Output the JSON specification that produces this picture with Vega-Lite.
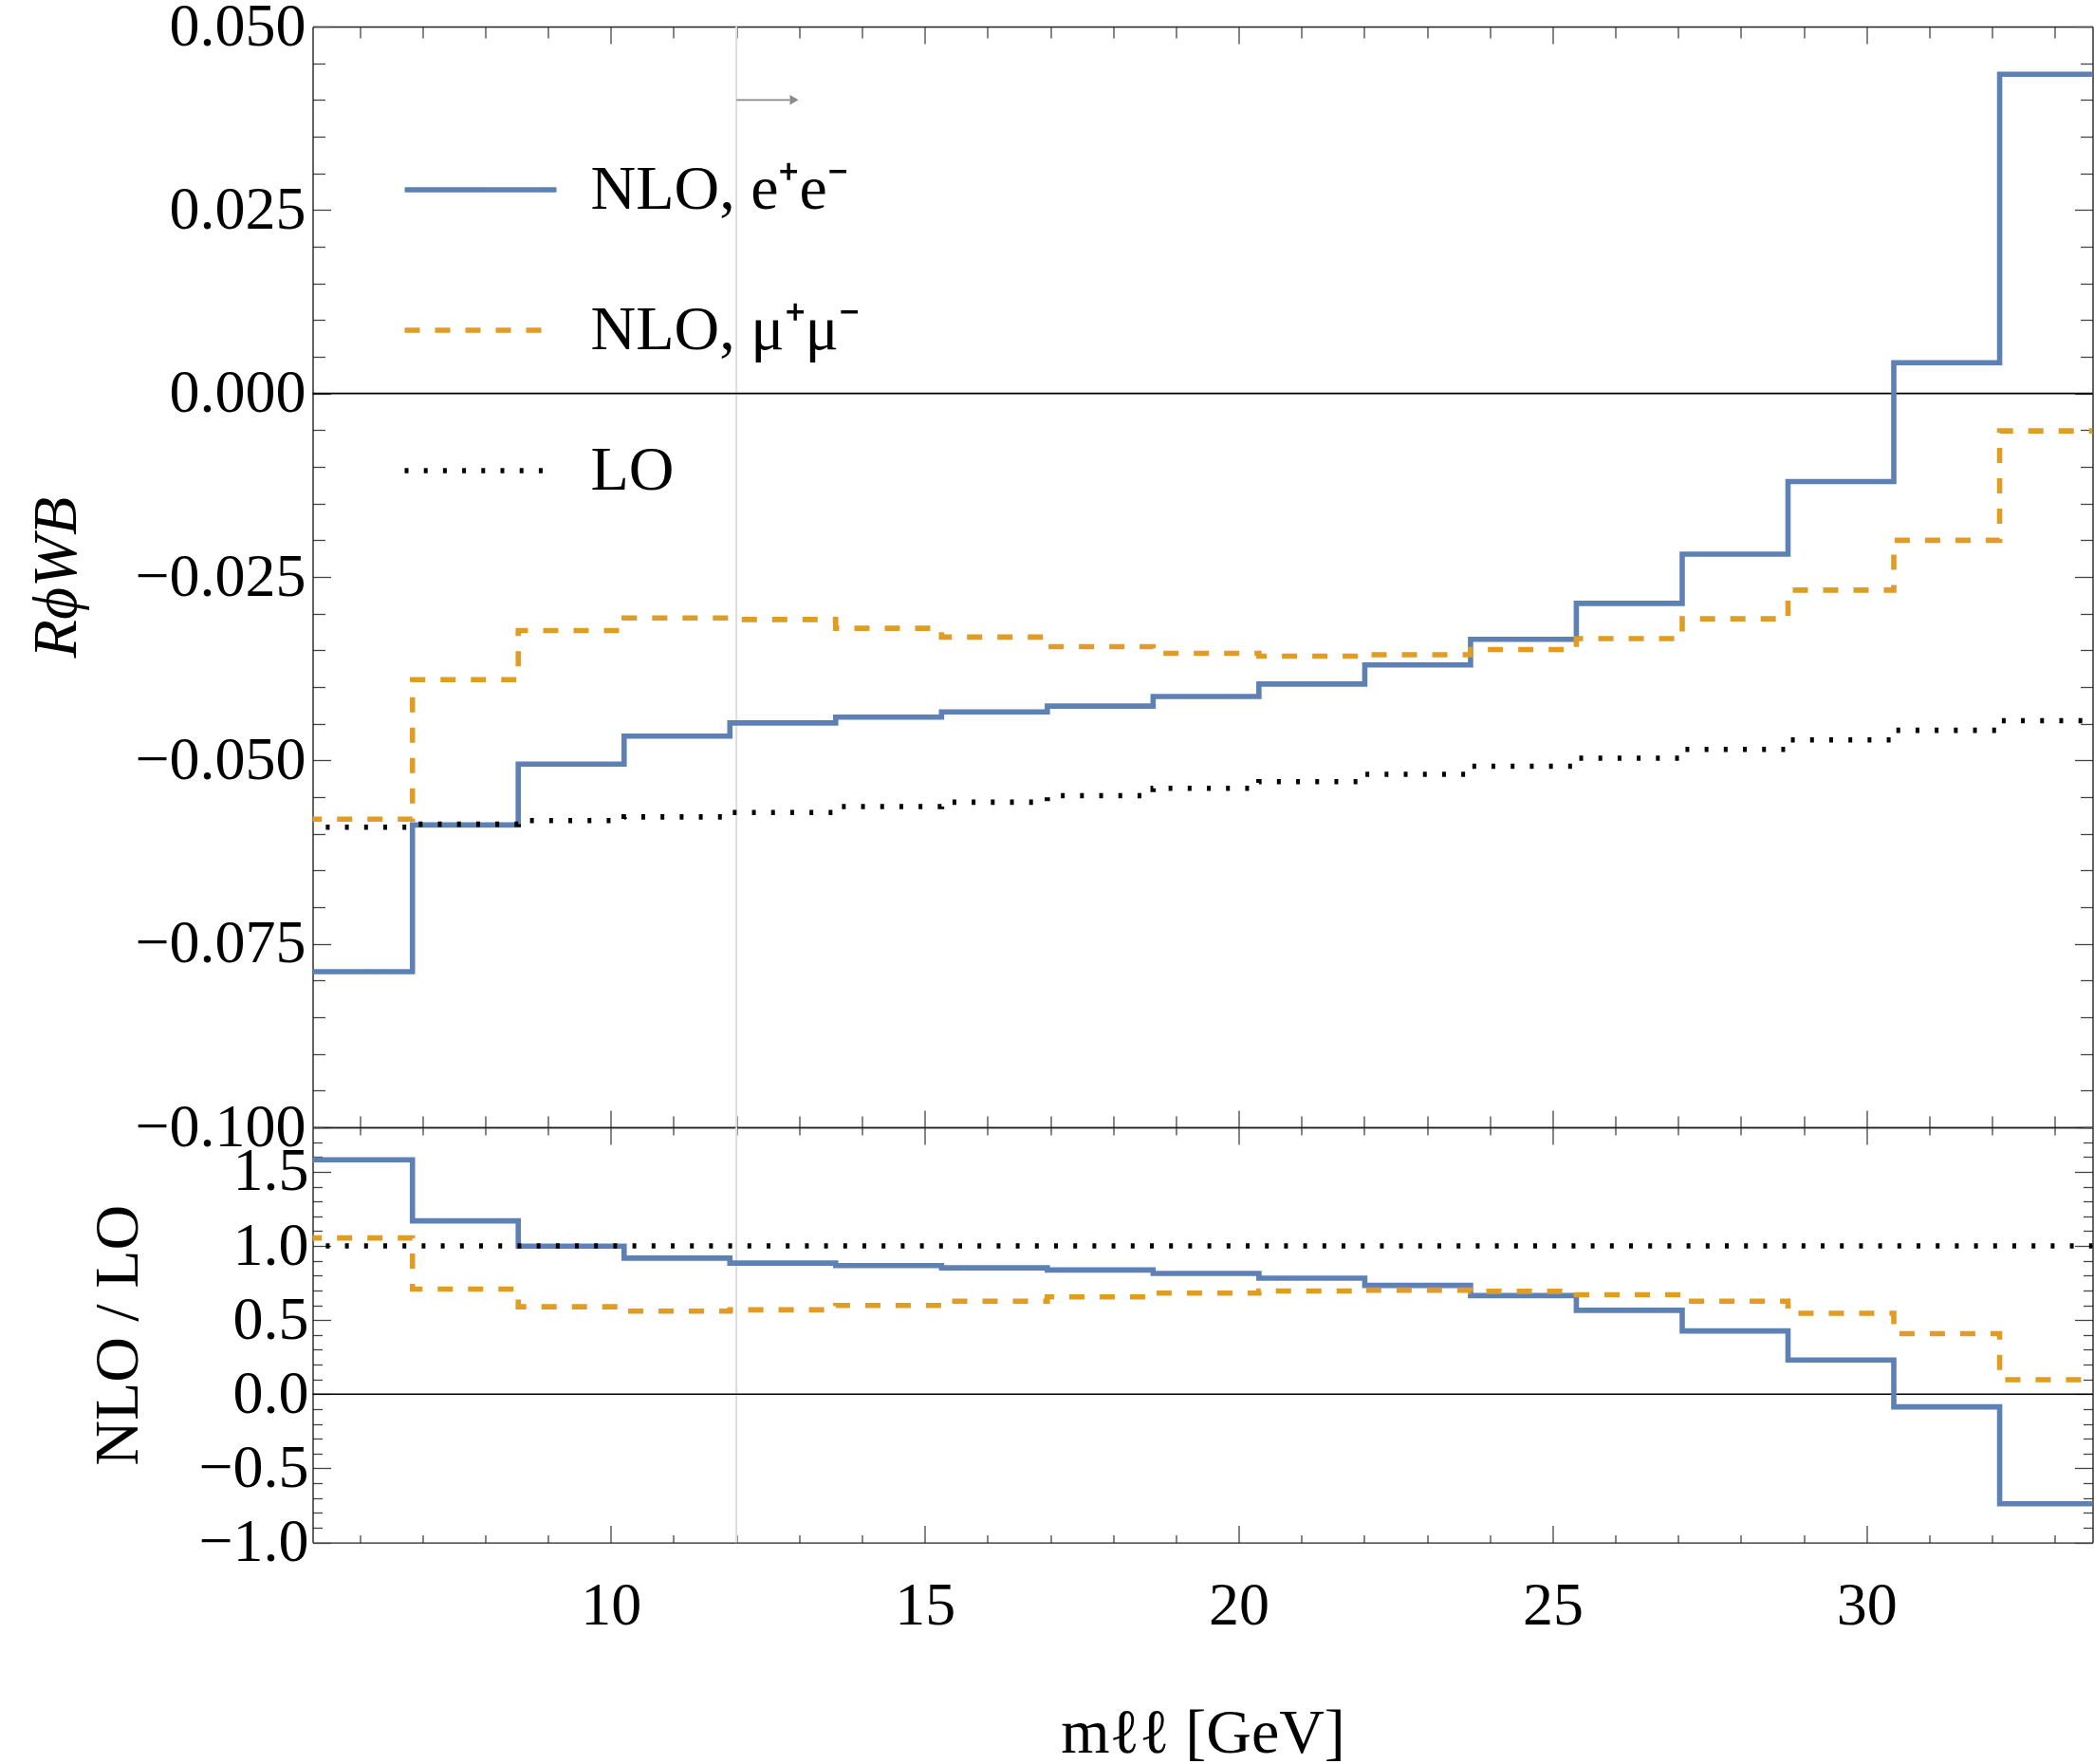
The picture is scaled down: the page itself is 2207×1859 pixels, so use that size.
{
  "$schema": "https://vega.github.io/schema/vega-lite/v6.json",
  "background": "white",
  "padding": {"left": 26.5, "top": -4, "right": 0, "bottom": 0},
  "spacing": 0,
  "bounds": "flush",
  "config": {
    "view": {"stroke": null},
    "font": "Liberation Serif",
    "axis": {
      "grid": false,
      "domainColor": "#222222",
      "domainWidth": 1.4,
      "tickColor": "#444444",
      "tickWidth": 1.3,
      "labelFont": "Liberation Serif",
      "labelFontSize": 64,
      "labelColor": "black",
      "labelLimit": 500,
      "titleFont": "Liberation Serif",
      "titleFontSize": 66,
      "titleColor": "black",
      "titleFontWeight": "normal",
      "titleLimit": 1000,
      "labelOverlap": false,
      "labelFlush": false,
      "labelBound": false
    }
  },
  "resolve": {"scale": {"color": "independent", "strokeDash": "independent", "strokeWidth": "independent"}},
  "datasets": {
    "main": [
      {"m": 5.155, "v": -0.0788, "s": "NLO, e⁺e⁻"},
      {"m": 6.84, "v": -0.0588, "s": "NLO, e⁺e⁻"},
      {"m": 8.525, "v": -0.0505, "s": "NLO, e⁺e⁻"},
      {"m": 10.211, "v": -0.0467, "s": "NLO, e⁺e⁻"},
      {"m": 11.896, "v": -0.0449, "s": "NLO, e⁺e⁻"},
      {"m": 13.581, "v": -0.0441, "s": "NLO, e⁺e⁻"},
      {"m": 15.267, "v": -0.0434, "s": "NLO, e⁺e⁻"},
      {"m": 16.952, "v": -0.0426, "s": "NLO, e⁺e⁻"},
      {"m": 18.637, "v": -0.0413, "s": "NLO, e⁺e⁻"},
      {"m": 20.322, "v": -0.0396, "s": "NLO, e⁺e⁻"},
      {"m": 22.008, "v": -0.0370, "s": "NLO, e⁺e⁻"},
      {"m": 23.693, "v": -0.0335, "s": "NLO, e⁺e⁻"},
      {"m": 25.378, "v": -0.0286, "s": "NLO, e⁺e⁻"},
      {"m": 27.064, "v": -0.0219, "s": "NLO, e⁺e⁻"},
      {"m": 28.749, "v": -0.0120, "s": "NLO, e⁺e⁻"},
      {"m": 30.434, "v": 0.0042, "s": "NLO, e⁺e⁻"},
      {"m": 32.12, "v": 0.0435, "s": "NLO, e⁺e⁻"},
      {"m": 33.805, "v": 0.0435, "s": "NLO, e⁺e⁻"},
      {"m": 5.155, "v": -0.0580, "s": "NLO, μ⁺μ⁻"},
      {"m": 6.84, "v": -0.0390, "s": "NLO, μ⁺μ⁻"},
      {"m": 8.525, "v": -0.0323, "s": "NLO, μ⁺μ⁻"},
      {"m": 10.211, "v": -0.0306, "s": "NLO, μ⁺μ⁻"},
      {"m": 11.896, "v": -0.0308, "s": "NLO, μ⁺μ⁻"},
      {"m": 13.581, "v": -0.0320, "s": "NLO, μ⁺μ⁻"},
      {"m": 15.267, "v": -0.0332, "s": "NLO, μ⁺μ⁻"},
      {"m": 16.952, "v": -0.0345, "s": "NLO, μ⁺μ⁻"},
      {"m": 18.637, "v": -0.0354, "s": "NLO, μ⁺μ⁻"},
      {"m": 20.322, "v": -0.0358, "s": "NLO, μ⁺μ⁻"},
      {"m": 22.008, "v": -0.0356, "s": "NLO, μ⁺μ⁻"},
      {"m": 23.693, "v": -0.0349, "s": "NLO, μ⁺μ⁻"},
      {"m": 25.378, "v": -0.0334, "s": "NLO, μ⁺μ⁻"},
      {"m": 27.064, "v": -0.0307, "s": "NLO, μ⁺μ⁻"},
      {"m": 28.749, "v": -0.0268, "s": "NLO, μ⁺μ⁻"},
      {"m": 30.434, "v": -0.0200, "s": "NLO, μ⁺μ⁻"},
      {"m": 32.12, "v": -0.0051, "s": "NLO, μ⁺μ⁻"},
      {"m": 33.805, "v": -0.0051, "s": "NLO, μ⁺μ⁻"},
      {"m": 5.155, "v": -0.0591, "s": "LO"},
      {"m": 6.84, "v": -0.0587, "s": "LO"},
      {"m": 8.525, "v": -0.0582, "s": "LO"},
      {"m": 10.211, "v": -0.0577, "s": "LO"},
      {"m": 11.896, "v": -0.0571, "s": "LO"},
      {"m": 13.581, "v": -0.0563, "s": "LO"},
      {"m": 15.267, "v": -0.0557, "s": "LO"},
      {"m": 16.952, "v": -0.0548, "s": "LO"},
      {"m": 18.637, "v": -0.0538, "s": "LO"},
      {"m": 20.322, "v": -0.0529, "s": "LO"},
      {"m": 22.008, "v": -0.0519, "s": "LO"},
      {"m": 23.693, "v": -0.0508, "s": "LO"},
      {"m": 25.378, "v": -0.0497, "s": "LO"},
      {"m": 27.064, "v": -0.0485, "s": "LO"},
      {"m": 28.749, "v": -0.0472, "s": "LO"},
      {"m": 30.434, "v": -0.0459, "s": "LO"},
      {"m": 32.12, "v": -0.0446, "s": "LO"},
      {"m": 33.805, "v": -0.0446, "s": "LO"}
    ],
    "ratio": [
      {"m": 5.155, "v": 1.581, "s": "NLO, e⁺e⁻"},
      {"m": 6.84, "v": 1.169, "s": "NLO, e⁺e⁻"},
      {"m": 8.525, "v": 0.999, "s": "NLO, e⁺e⁻"},
      {"m": 10.211, "v": 0.918, "s": "NLO, e⁺e⁻"},
      {"m": 11.896, "v": 0.884, "s": "NLO, e⁺e⁻"},
      {"m": 13.581, "v": 0.867, "s": "NLO, e⁺e⁻"},
      {"m": 15.267, "v": 0.852, "s": "NLO, e⁺e⁻"},
      {"m": 16.952, "v": 0.838, "s": "NLO, e⁺e⁻"},
      {"m": 18.637, "v": 0.815, "s": "NLO, e⁺e⁻"},
      {"m": 20.322, "v": 0.783, "s": "NLO, e⁺e⁻"},
      {"m": 22.008, "v": 0.734, "s": "NLO, e⁺e⁻"},
      {"m": 23.693, "v": 0.665, "s": "NLO, e⁺e⁻"},
      {"m": 25.378, "v": 0.566, "s": "NLO, e⁺e⁻"},
      {"m": 27.064, "v": 0.427, "s": "NLO, e⁺e⁻"},
      {"m": 28.749, "v": 0.231, "s": "NLO, e⁺e⁻"},
      {"m": 30.434, "v": -0.085, "s": "NLO, e⁺e⁻"},
      {"m": 32.12, "v": -0.739, "s": "NLO, e⁺e⁻"},
      {"m": 33.805, "v": -0.739, "s": "NLO, e⁺e⁻"},
      {"m": 5.155, "v": 1.054, "s": "NLO, μ⁺μ⁻"},
      {"m": 6.84, "v": 0.709, "s": "NLO, μ⁺μ⁻"},
      {"m": 8.525, "v": 0.590, "s": "NLO, μ⁺μ⁻"},
      {"m": 10.211, "v": 0.560, "s": "NLO, μ⁺μ⁻"},
      {"m": 11.896, "v": 0.569, "s": "NLO, μ⁺μ⁻"},
      {"m": 13.581, "v": 0.599, "s": "NLO, μ⁺μ⁻"},
      {"m": 15.267, "v": 0.627, "s": "NLO, μ⁺μ⁻"},
      {"m": 16.952, "v": 0.656, "s": "NLO, μ⁺μ⁻"},
      {"m": 18.637, "v": 0.682, "s": "NLO, μ⁺μ⁻"},
      {"m": 20.322, "v": 0.696, "s": "NLO, μ⁺μ⁻"},
      {"m": 22.008, "v": 0.702, "s": "NLO, μ⁺μ⁻"},
      {"m": 23.693, "v": 0.694, "s": "NLO, μ⁺μ⁻"},
      {"m": 25.378, "v": 0.671, "s": "NLO, μ⁺μ⁻"},
      {"m": 27.064, "v": 0.627, "s": "NLO, μ⁺μ⁻"},
      {"m": 28.749, "v": 0.546, "s": "NLO, μ⁺μ⁻"},
      {"m": 30.434, "v": 0.408, "s": "NLO, μ⁺μ⁻"},
      {"m": 32.12, "v": 0.098, "s": "NLO, μ⁺μ⁻"},
      {"m": 33.805, "v": 0.098, "s": "NLO, μ⁺μ⁻"},
      {"m": 5.155, "v": 1.0, "s": "LO"},
      {"m": 6.84, "v": 1.0, "s": "LO"},
      {"m": 8.525, "v": 1.0, "s": "LO"},
      {"m": 10.211, "v": 1.0, "s": "LO"},
      {"m": 11.896, "v": 1.0, "s": "LO"},
      {"m": 13.581, "v": 1.0, "s": "LO"},
      {"m": 15.267, "v": 1.0, "s": "LO"},
      {"m": 16.952, "v": 1.0, "s": "LO"},
      {"m": 18.637, "v": 1.0, "s": "LO"},
      {"m": 20.322, "v": 1.0, "s": "LO"},
      {"m": 22.008, "v": 1.0, "s": "LO"},
      {"m": 23.693, "v": 1.0, "s": "LO"},
      {"m": 25.378, "v": 1.0, "s": "LO"},
      {"m": 27.064, "v": 1.0, "s": "LO"},
      {"m": 28.749, "v": 1.0, "s": "LO"},
      {"m": 30.434, "v": 1.0, "s": "LO"},
      {"m": 32.12, "v": 1.0, "s": "LO"},
      {"m": 33.805, "v": 1.0, "s": "LO"}
    ],
    "vline": [{"m": 12}],
    "zero": [{"v": 0}],
    "arrow": [{"m": 12, "m2": 12.85, "v": 0.04}],
    "arrowhead": [{"m": 12.92, "v": 0.04}]
  },
  "vconcat": [
    {
      "width": 1876,
      "height": 1160,
      "resolve": {"axis": {"x": "independent", "y": "independent"}},
      "layer": [
        {
          "data": {"name": "vline"},
          "mark": {"type": "rule", "color": "#dddddd", "strokeWidth": 2},
          "encoding": {
            "x": {"field": "m", "type": "quantitative", "scale": {"domain": [5.25, 33.6], "nice": false, "zero": false},
              "axis": {"orient": "top", "values": [6,7,8,9,10,11,12,13,14,15,16,17,18,19,20,21,22,23,24,25,26,27,28,29,30,31,32,33], "labels": false, "title": null,
                "tickSize": {"condition": {"test": "datum.value % 5 === 0", "value": -18}, "value": -12}}}
          }
        },
        {
          "data": {"name": "zero"},
          "mark": {"type": "rule", "color": "black", "strokeWidth": 1.6},
          "encoding": {
            "y": {"field": "v", "type": "quantitative", "scale": {"domain": [-0.1, 0.05], "nice": false, "zero": false},
              "axis": {"orient": "right", "values": [-0.1,-0.095,-0.09,-0.085,-0.08,-0.075,-0.07,-0.065,-0.06,-0.055,-0.05,-0.045,-0.04,-0.035,-0.03,-0.025,-0.02,-0.015,-0.01,-0.005,0,0.005,0.01,0.015,0.02,0.025,0.03,0.035,0.04,0.045,0.05], "labels": false, "title": null,
                "tickSize": {"condition": {"test": "abs(datum.value*40 - round(datum.value*40)) < 0.001", "value": -19}, "value": -13}}}
          }
        },
        {
          "data": {"name": "main"},
          "mark": {"type": "line", "interpolate": "step-after", "strokeWidth": 5.6, "clip": true},
          "encoding": {
            "x": {"field": "m", "type": "quantitative", "scale": {"domain": [5.25, 33.6], "nice": false, "zero": false},
              "axis": {"orient": "bottom", "values": [6,7,8,9,10,11,12,13,14,15,16,17,18,19,20,21,22,23,24,25,26,27,28,29,30,31,32,33], "labels": false, "title": null,
                "tickSize": {"condition": {"test": "datum.value % 5 === 0", "value": -18}, "value": -12}}},
            "y": {"field": "v", "type": "quantitative", "scale": {"domain": [-0.1, 0.05], "nice": false, "zero": false},
              "axis": {"orient": "left", "values": [-0.1,-0.095,-0.09,-0.085,-0.08,-0.075,-0.07,-0.065,-0.06,-0.055,-0.05,-0.045,-0.04,-0.035,-0.03,-0.025,-0.02,-0.015,-0.01,-0.005,0,0.005,0.01,0.015,0.02,0.025,0.03,0.035,0.04,0.045,0.05],
                "format": ".3f",
                "labelExpr": "abs(datum.value*40 - round(datum.value*40)) < 0.001 ? datum.label : ''",
                "labelPadding": 26.5,
                "title": "RϕWB", "titleFontStyle": "italic", "titlePadding": 48,
                "tickSize": {"condition": {"test": "abs(datum.value*40 - round(datum.value*40)) < 0.001", "value": -19}, "value": -13}}},
            "color": {"field": "s", "type": "nominal",
              "scale": {"domain": ["NLO, e⁺e⁻", "NLO, μ⁺μ⁻", "LO"], "range": ["#5E81B5", "#E19C24", "#000000"]},
              "legend": {"title": null, "orient": "none", "legendX": 142, "legendY": 137, "padding": 0,
                "symbolType": "M-2.5,0H2.5", "symbolSize": 4096, "symbolStrokeWidth": 5.6, "symbolOffset": 0,
                "labelFont": "Liberation Serif", "labelFontSize": 66, "labelColor": "black", "labelOffset": 81, "rowPadding": 80, "labelLimit": 600}},
            "strokeDash": {"field": "s", "type": "nominal",
              "scale": {"domain": ["NLO, e⁺e⁻", "NLO, μ⁺μ⁻", "LO"], "range": [[1, 0], [16, 16], [4, 16.2]]},
              "legend": {"title": null, "orient": "none", "legendX": 142, "legendY": 137, "padding": 0,
                "symbolType": "M-2.5,0H2.5", "symbolSize": 4096, "symbolStrokeWidth": 5.6, "symbolOffset": 0,
                "labelFont": "Liberation Serif", "labelFontSize": 66, "labelColor": "black", "labelOffset": 81, "rowPadding": 80, "labelLimit": 600}}
          }
        },
        {
          "data": {"name": "arrow"},
          "mark": {"type": "rule", "color": "#8a8a8a", "strokeWidth": 1.6},
          "encoding": {
            "x": {"field": "m", "type": "quantitative", "axis": null},
            "x2": {"field": "m2"},
            "y": {"field": "v", "type": "quantitative", "axis": null}
          }
        },
        {
          "data": {"name": "arrowhead"},
          "mark": {"type": "point", "shape": "triangle-right", "filled": true, "color": "#8a8a8a", "size": 110, "opacity": 1},
          "encoding": {
            "x": {"field": "m", "type": "quantitative", "axis": null},
            "y": {"field": "v", "type": "quantitative", "axis": null}
          }
        }
      ]
    },
    {
      "width": 1876,
      "height": 437.6,
      "resolve": {"axis": {"x": "independent", "y": "independent"}},
      "layer": [
        {
          "data": {"name": "vline"},
          "mark": {"type": "rule", "color": "#dddddd", "strokeWidth": 2},
          "encoding": {
            "x": {"field": "m", "type": "quantitative", "scale": {"domain": [5.25, 33.6], "nice": false, "zero": false},
              "axis": {"orient": "top", "values": [6,7,8,9,10,11,12,13,14,15,16,17,18,19,20,21,22,23,24,25,26,27,28,29,30,31,32,33], "labels": false, "title": null,
                "tickSize": {"condition": {"test": "datum.value % 5 === 0", "value": -18}, "value": -8}}}
          }
        },
        {
          "data": {"name": "zero"},
          "mark": {"type": "rule", "color": "black", "strokeWidth": 1.6},
          "encoding": {
            "y": {"field": "v", "type": "quantitative", "scale": {"domain": [-1, 1.8], "nice": false, "zero": false},
              "axis": {"orient": "right", "values": [-1,-0.9,-0.8,-0.7,-0.6,-0.5,-0.4,-0.3,-0.2,-0.1,0,0.1,0.2,0.3,0.4,0.5,0.6,0.7,0.8,0.9,1,1.1,1.2,1.3,1.4,1.5,1.6,1.7,1.8], "labels": false, "title": null,
                "tickSize": {"condition": {"test": "abs(datum.value*2 - round(datum.value*2)) < 0.001", "value": -19}, "value": -10}}}
          }
        },
        {
          "data": {"name": "ratio"},
          "mark": {"type": "line", "interpolate": "step-after", "strokeWidth": 5.6, "clip": true},
          "encoding": {
            "x": {"field": "m", "type": "quantitative", "scale": {"domain": [5.25, 33.6], "nice": false, "zero": false},
              "axis": {"orient": "bottom", "values": [6,7,8,9,10,11,12,13,14,15,16,17,18,19,20,21,22,23,24,25,26,27,28,29,30,31,32,33],
                "labelExpr": "datum.value % 5 === 0 ? datum.label : ''", "format": "d",
                "labelPadding": 53,
                "title": "mℓℓ [GeV]", "titlePadding": 60,
                "tickSize": {"condition": {"test": "datum.value % 5 === 0", "value": -18}, "value": -8}}},
            "y": {"field": "v", "type": "quantitative", "scale": {"domain": [-1, 1.8], "nice": false, "zero": false},
              "axis": {"orient": "left", "values": [-1,-0.9,-0.8,-0.7,-0.6,-0.5,-0.4,-0.3,-0.2,-0.1,0,0.1,0.2,0.3,0.4,0.5,0.6,0.7,0.8,0.9,1,1.1,1.2,1.3,1.4,1.5,1.6,1.7,1.8],
                "format": ".1f",
                "labelExpr": "abs(datum.value*2 - round(datum.value*2)) < 0.001 ? datum.label : ''",
                "labelPadding": 23.5,
                "title": "NLO / LO", "titlePadding": 50,
                "tickSize": {"condition": {"test": "abs(datum.value*2 - round(datum.value*2)) < 0.001", "value": -19}, "value": -10}}},
            "color": {"field": "s", "type": "nominal",
              "scale": {"domain": ["NLO, e⁺e⁻", "NLO, μ⁺μ⁻", "LO"], "range": ["#5E81B5", "#E19C24", "#000000"]},
              "legend": null},
            "strokeDash": {"field": "s", "type": "nominal",
              "scale": {"domain": ["NLO, e⁺e⁻", "NLO, μ⁺μ⁻", "LO"], "range": [[1, 0], [16, 16], [4, 16.2]]},
              "legend": null}
          }
        }
      ]
    }
  ]
}
